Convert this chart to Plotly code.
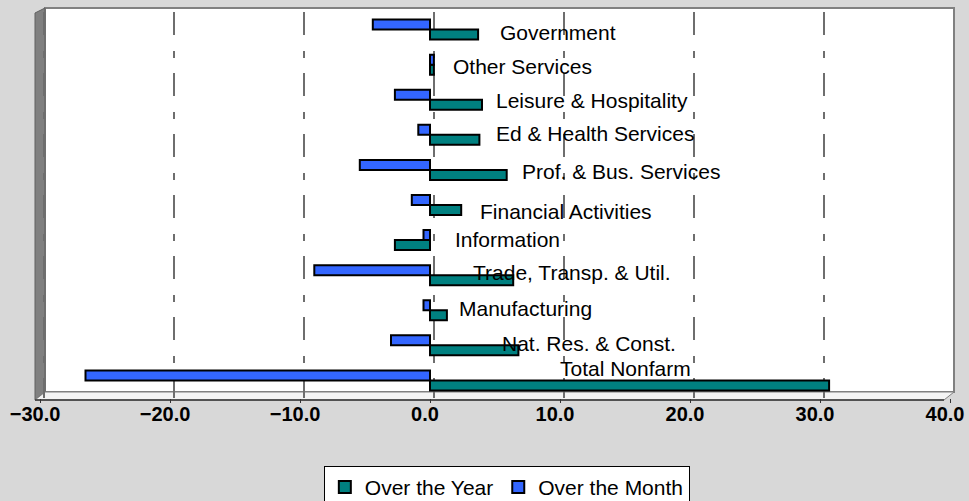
import plotly.graph_objects as go

# industries, bottom to top as drawn
industries = [
    "Total Nonfarm",
    "Nat. Res. & Const.",
    "Manufacturing",
    "Trade, Transp. & Util.",
    "Information",
    "Financial Activities",
    "Prof. & Bus. Services",
    "Ed & Health Services",
    "Leisure & Hospitality",
    "Other Services",
    "Government",
]
over_the_year = [30.7, 6.8, 1.3, 6.4, -2.7, 2.4, 5.9, 3.8, 4.0, 0.3, 3.7]
over_the_month = [-26.5, -3.0, -0.5, -8.9, -0.5, -1.4, -5.4, -0.9, -2.7, 0.3, -4.4]
x_ticks = [-30, -20, -10, 0, 10, 20, 30, 40]

# where the category captions sit (x in data units, y shift in px, up = positive)
label_x = [10.0, 5.5, 2.2, 3.3, 1.9, 3.85, 7.1, 5.1, 5.1, 1.8, 5.4]
label_shift = [12, 2, 2, 3, 1, -6, -2, 1, -1, -2, -3]

W, H = 969, 501
L, R, T, B = 40, 19, 12, 103
DEPTH = 0.31  # back wall sits ~4px to the right of the bar plane


def fx(px):
    return (px - L) / (W - L - R)


def fy(py):
    return (H - B - py) / (H - T - B)


def path(points):
    pts = ["%s%.5f,%.5f" % ("M" if i == 0 else "L", fx(a), fy(b)) for i, (a, b) in enumerate(points)]
    return " ".join(pts) + " Z"


fig = go.Figure()
fig.add_trace(go.Bar(
    y=industries, x=over_the_year, orientation="h", name="Over the Year",
    marker=dict(color="#008080", line=dict(color="black", width=2)),
))
fig.add_trace(go.Bar(
    y=industries, x=over_the_month, orientation="h", name="Over the Month",
    marker=dict(color="#3366FF", line=dict(color="black", width=2)),
))
# empty trace so the back-wall grid axis gets drawn
fig.add_trace(go.Scatter(x=[], y=[], xaxis="x2", yaxis="y", showlegend=False, hoverinfo="skip"))

for name, lx, sh in zip(industries, label_x, label_shift):
    fig.add_annotation(
        x=lx, y=name, xref="x", yref="y", text=name, showarrow=False,
        xanchor="left", xshift=-2, yshift=sh,
        font=dict(family="Arial, Liberation Sans", size=21, color="black"),
    )

shapes = [
    # back wall
    dict(type="rect", xref="paper", yref="paper", x0=fx(45), x1=fx(954), y0=fy(392), y1=fy(8),
         fillcolor="white", line=dict(color="#808080", width=2), layer="below"),
    # left wall
    dict(type="path", xref="paper", yref="paper", path=path([(35, 13), (45, 8), (45, 392), (35, 400)]),
         fillcolor="#808080", line=dict(color="#606060", width=1), layer="below"),
    # floor
    dict(type="path", xref="paper", yref="paper", path=path([(35, 400), (45, 392), (954, 392), (944, 400)]),
         fillcolor="#f4f4f4", line=dict(color="#808080", width=1), layer="below"),
    dict(type="line", xref="paper", yref="paper", x0=fx(35), x1=fx(944), y0=fy(400), y1=fy(400),
         line=dict(color="#333333", width=1.5)),
]

fig.update_layout(
    width=W, height=H,
    margin=dict(l=L, r=R, t=T, b=B, autoexpand=False),
    paper_bgcolor="#d8d8d8",
    plot_bgcolor="rgba(0,0,0,0)",
    barmode="group",
    bargap=0.43,
    bargroupgap=0,
    shapes=shapes,
    font=dict(family="Arial, Liberation Sans", color="black"),
    showlegend=True,
    legend=dict(
        orientation="h", x=0.513, y=-0.176, xanchor="center", yanchor="top",
        bgcolor="white", bordercolor="black", borderwidth=1, itemwidth=30,
        font=dict(size=21, color="black"), traceorder="normal",
    ),
    xaxis=dict(
        range=[-30, 40], tickvals=x_ticks, tickformat=".1f",
        showgrid=False, zeroline=False, showline=False, automargin=False,
        ticks="outside", ticklen=4, tickcolor="#333333",
        ticklabelshift=-5, ticklabelstandoff=-6, ticklabeloverflow="allow",
        tickfont=dict(size=20, family="Arial, Liberation Sans", weight="bold", color="black"),
        fixedrange=True,
    ),
    # grid on the back wall, offset by the 3D depth
    xaxis2=dict(
        overlaying="x", anchor="y", side="bottom",
        range=[-30 - DEPTH, 40 - DEPTH], tickvals=x_ticks, showticklabels=False, ticks="",
        showgrid=True, gridcolor="#6e6e6e", gridwidth=2, griddash="23px,16px,7px,15px",
        zeroline=False, showline=False, automargin=False, fixedrange=True,
    ),
    yaxis=dict(showticklabels=False, showgrid=False, zeroline=False, automargin=False, fixedrange=True),
)

# drop the page margin so the figure fills the window exactly
fig.write_html(
    "out.html",
    config={"displayModeBar": False},
    post_script="document.body.style.margin='0';",
)
